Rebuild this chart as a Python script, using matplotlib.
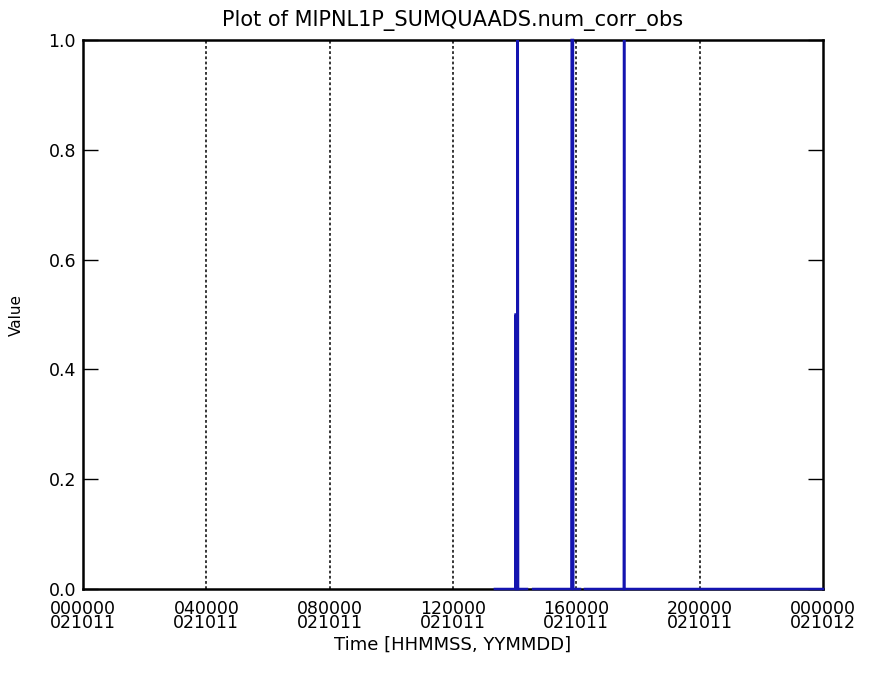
import numpy as np
import matplotlib
matplotlib.use("Agg")
import matplotlib.pyplot as plt

# Data (time in hours since 2002-10-11 00:00; NaN = data gap)
time_h = [13.36, 14.02, 14.03, 14.04, 14.05, 14.09, 14.10, 14.11, 14.40,
          np.nan,
          14.60, 15.84, 15.85, 15.89, 15.90, 16.12,
          np.nan,
          16.28, 17.54, 17.55, 17.56, 24.0]
values = [0.0, 0.0, 0.5, 0.5, 0.0, 0.0, 1.0, 0.0, 0.0,
          np.nan,
          0.0, 0.0, 1.0, 1.0, 0.0, 0.0,
          np.nan,
          0.0, 0.0, 1.0, 0.0, 0.0]

xtick_hours = [0, 4, 8, 12, 16, 20, 24]
xtick_labels = ["000000\n021011", "040000\n021011", "080000\n021011",
                "120000\n021011", "160000\n021011", "200000\n021011",
                "000000\n021012"]
ytick_vals = [0.0, 0.2, 0.4, 0.6, 0.8, 1.0]
ytick_labels = ["0.0", "0.2", "0.4", "0.6", "0.8", "1.0"]

plt.rcParams['font.family'] = ['DejaVu Sans']

fig = plt.figure(figsize=(8.73, 6.75), dpi=100)
ax = fig.add_axes([83/873, 1-589/675, 740/873, 549/675])

ax.plot(time_h, values, color='#1414b0', lw=1.8, solid_joinstyle='miter',
        zorder=3, clip_on=False)

ax.set_xlim(0, 24)
ax.set_ylim(0, 1.0)

for h in xtick_hours[1:-1]:
    ax.axvline(h, color='black', ls=(0, (1.8, 1.6)), lw=1.1, zorder=1)

ax.set_xticks(xtick_hours)
ax.set_xticklabels(xtick_labels, fontsize=12.5, linespacing=0.74)
ax.tick_params(axis='x', length=0, pad=8)

ax.set_yticks(ytick_vals)
ax.set_yticklabels(ytick_labels, fontsize=12.5)
ax.tick_params(axis='y', direction='in', length=11, width=1, left=True, right=True, pad=5)

for s in ax.spines.values():
    s.set_linewidth(1.8)

ax.set_title("Plot of MIPNL1P_SUMQUAADS.num_corr_obs", fontsize=15, pad=10)
ax.set_xlabel("Time [HHMMSS, YYMMDD]", fontsize=13, labelpad=2)
ax.set_ylabel("Value", fontsize=11, labelpad=18)

fig.savefig("out.png", dpi=100)
